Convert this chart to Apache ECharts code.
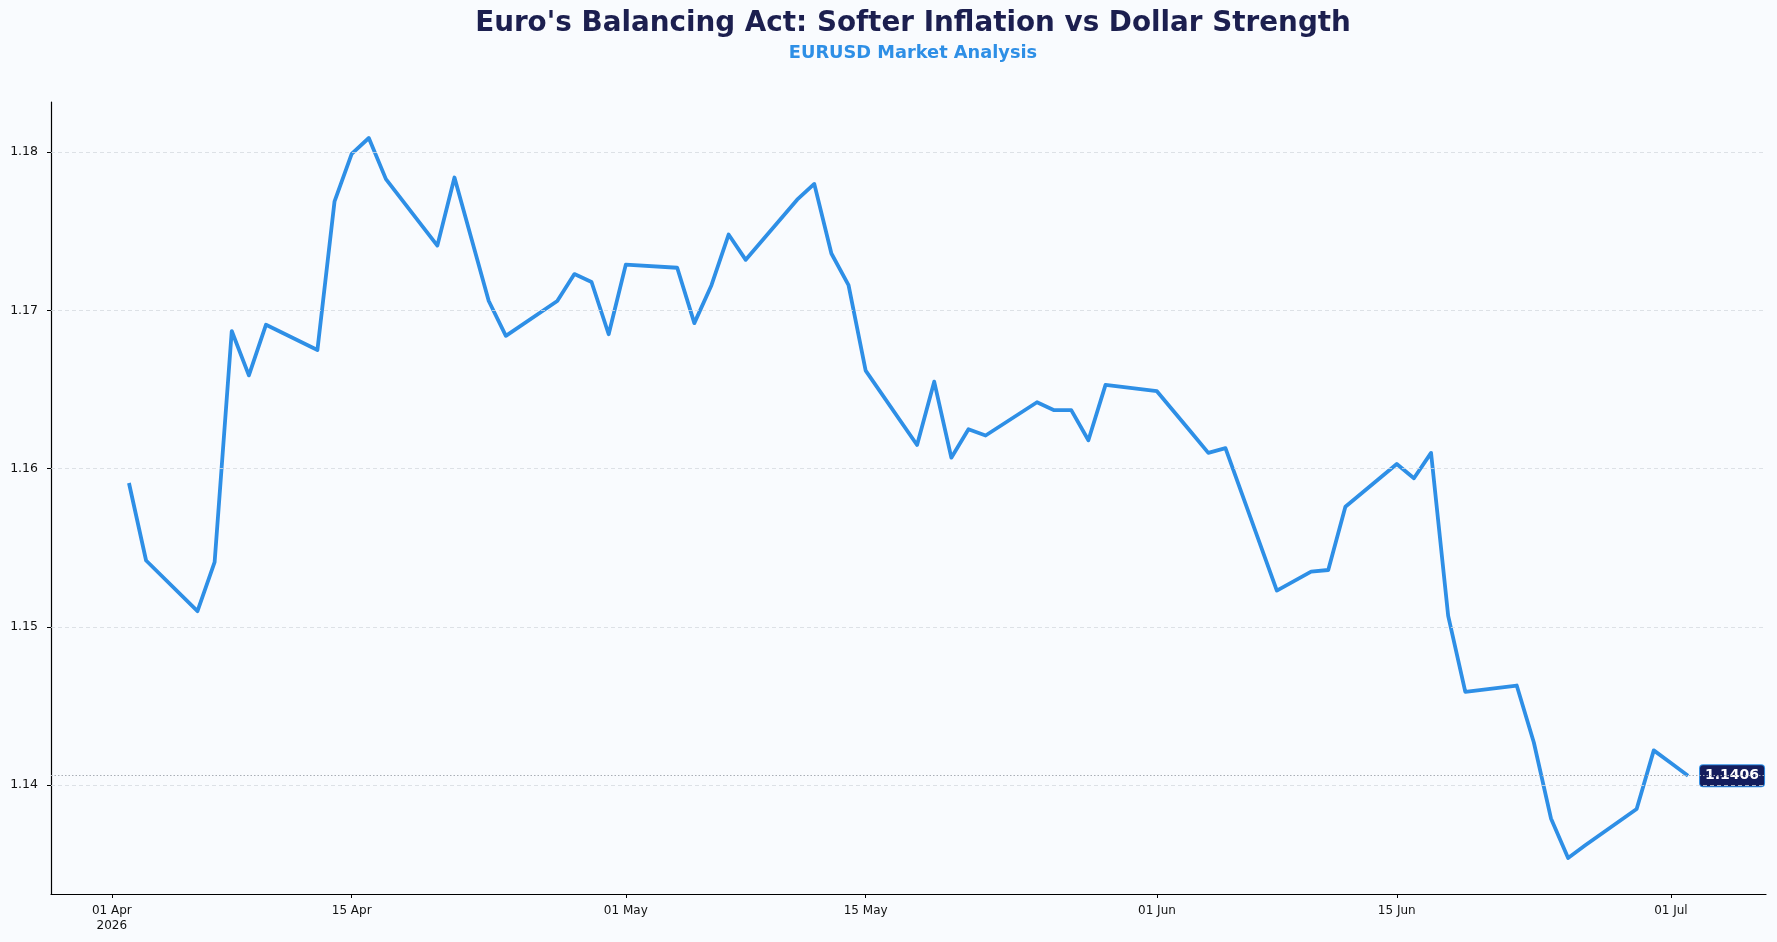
<!DOCTYPE html>
<html>
<head>
<meta charset="utf-8">
<script src="https://cdn.jsdelivr.net/npm/echarts@6/dist/echarts.min.js"></script>
<style>
  html, body { margin: 0; padding: 0; background: #f9fbfe; }
  #chart { width: 1777px; height: 942px; }
</style>
</head>
<body>
<div id="chart"></div>
<script>
// EURUSD daily closes (business days)
var dates = [
    '2026-04-02','2026-04-03','2026-04-06','2026-04-07','2026-04-08','2026-04-09','2026-04-10',
    '2026-04-13','2026-04-14','2026-04-15','2026-04-16','2026-04-17','2026-04-20','2026-04-21',
    '2026-04-22','2026-04-23','2026-04-24','2026-04-27','2026-04-28','2026-04-29','2026-04-30',
    '2026-05-01','2026-05-04','2026-05-05','2026-05-06','2026-05-07','2026-05-08','2026-05-11',
    '2026-05-12','2026-05-13','2026-05-14','2026-05-15','2026-05-18','2026-05-19','2026-05-20',
    '2026-05-21','2026-05-22','2026-05-25','2026-05-26','2026-05-27','2026-05-28','2026-05-29',
    '2026-06-01','2026-06-02','2026-06-03','2026-06-04','2026-06-05','2026-06-08','2026-06-09',
    '2026-06-10','2026-06-11','2026-06-12','2026-06-15','2026-06-16','2026-06-17','2026-06-18',
    '2026-06-19','2026-06-22','2026-06-23','2026-06-24','2026-06-25','2026-06-26','2026-06-29',
    '2026-06-30','2026-07-01','2026-07-02'
];
var closes = [
    1.1591, 1.1542, 1.1510, 1.1541, 1.1687, 1.1659, 1.1691,
    1.1675, 1.1769, 1.1799, 1.1809, 1.1783, 1.1741, 1.1784,
    1.1745, 1.1706, 1.1684, 1.1706, 1.1723, 1.1718, 1.1685,
    1.1729, 1.1727, 1.1692, 1.1716, 1.1748, 1.1732, 1.1770,
    1.1780, 1.1736, 1.1716, 1.1662, 1.1615, 1.1655, 1.1607,
    1.1625, 1.1621, 1.1642, 1.1637, 1.1637, 1.1618, 1.1653,
    1.1649, 1.1636, 1.1623, 1.1610, 1.1613, 1.1523, 1.1529,
    1.1535, 1.1536, 1.1576, 1.1603, 1.1594, 1.1610, 1.1507,
    1.1459, 1.1463, 1.1427, 1.1379, 1.1354, 1.1362, 1.1385,
    1.1422, 1.1414, 1.1406
];
var yTicks = [1.14, 1.15, 1.16, 1.17, 1.18];
var xTicks = ['2026-04-01','2026-04-15','2026-05-01','2026-05-15','2026-06-01','2026-06-15','2026-07-01'];
var monthNames = ['Jan','Feb','Mar','Apr','May','Jun','Jul','Aug','Sep','Oct','Nov','Dec'];

function toTime(s) {
    var p = s.split('-');
    return new Date(+p[0], +p[1] - 1, +p[2]).getTime();
}

var points = dates.map(function (d, i) { return [toTime(d), closes[i]]; });
var lastValue = closes[closes.length - 1];

// matplotlib-like 5% margins around the data
var tMin = points[0][0], tMax = points[points.length - 1][0];
var vMin = Math.min.apply(null, closes), vMax = Math.max.apply(null, closes);
var tPad = (tMax - tMin) * 0.05, vPad = (vMax - vMin) * 0.05;

var font = 'DejaVu Sans';
var dom = document.getElementById('chart');
var myChart = echarts.init(dom);

var option = {
    backgroundColor: '#f9fbfe',
    animation: false,
    title: [
        {
            text: "Euro's Balancing Act: Softer Inflation vs Dollar Strength",
            left: 908, top: 5, textAlign: 'center',
            textStyle: { fontFamily: font, fontSize: 27.8, fontWeight: 'bold', color: '#1c1f4f' }
        },
        {
            text: 'EURUSD Market Analysis',
            left: 908, top: 39, textAlign: 'center',
            textStyle: { fontFamily: font, fontSize: 17.8, fontWeight: 'bold', color: '#2e8fe6' }
        }
    ],
    grid: { left: 51, right: 11, top: 102, bottom: 48 },
    xAxis: {
        // timestamps on a value axis so the tick dates can be chosen
        type: 'value',
        min: tMin - tPad,
        max: tMax + tPad,
        axisLine: { lineStyle: { color: '#000', width: 1.2 } },
        axisTick: {
            show: true, length: 4, lineStyle: { color: '#000' },
            customValues: xTicks.map(toTime)
        },
        axisLabel: {
            fontFamily: font, fontSize: 12, color: '#111', margin: 9, lineHeight: 15,
            customValues: xTicks.map(toTime),
            formatter: function (v) {
                var d = new Date(v);
                var s = ('0' + d.getDate()).slice(-2) + ' ' + monthNames[d.getMonth()];
                if (d.getMonth() === 3 && d.getDate() === 1) s += '\n' + d.getFullYear();
                return s;
            }
        },
        splitLine: { show: false }
    },
    yAxis: {
        type: 'value',
        min: vMin - vPad,
        max: vMax + vPad,
        axisLine: { show: true, lineStyle: { color: '#000', width: 1.2 } },
        axisTick: {
            show: true, length: 4, lineStyle: { color: '#000' },
            customValues: yTicks
        },
        axisLabel: {
            fontFamily: font, fontSize: 12.5, color: '#111', margin: 13,
            customValues: yTicks,
            formatter: function (v) { return v.toFixed(2); }
        },
        splitLine: { show: false }
    },
    series: [
        {
            // horizontal grid lines
            type: 'line',
            data: [],
            silent: true,
            z: 1,
            markLine: {
                silent: true,
                symbol: 'none',
                animation: false,
                precision: 4,
                label: { show: false },
                lineStyle: { color: '#d6dae0', type: [4, 3], width: 0.8 },
                data: yTicks.map(function (v) { return { yAxis: v }; })
            }
        },
        {
            // last close reference line
            type: 'line',
            data: [],
            silent: true,
            z: 1,
            markLine: {
                silent: true,
                symbol: 'none',
                animation: false,
                precision: 4,
                label: { show: false },
                lineStyle: { color: '#a9aeb6', type: [1.5, 2], width: 1 },
                data: [{ yAxis: lastValue }]
            }
        },
        {
            name: 'EURUSD',
            type: 'line',
            data: points,
            showSymbol: false,
            z: 3,
            lineStyle: { color: '#2e8fe6', width: 3.8, join: 'round' },
            itemStyle: { color: '#2e8fe6' },
            endLabel: {
                show: true,
                distance: 12,
                formatter: function () { return lastValue.toFixed(4); },
                fontFamily: font, fontSize: 14, fontWeight: 'bold', color: '#fff',
                backgroundColor: '#141d5c',
                borderColor: '#2e8fe6', borderWidth: 1, borderRadius: 3,
                padding: [4, 5, 3, 5]
            }
        }
    ]
};

myChart.setOption(option, true);
</script>
</body>
</html>
